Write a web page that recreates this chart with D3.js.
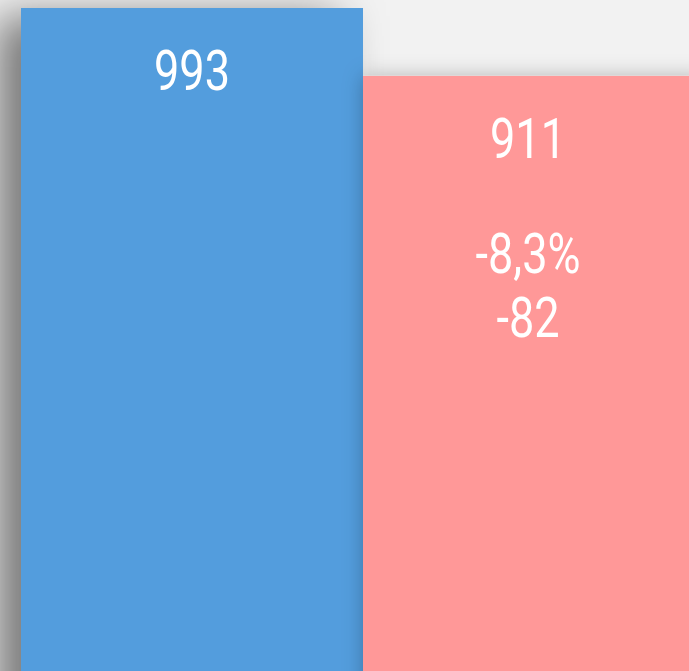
<!DOCTYPE html>
<html>
<head>
<meta charset="utf-8">
<script src="https://cdn.jsdelivr.net/npm/d3@7"></script>
<style>
  html, body { margin: 0; padding: 0; background: #f2f2f2; overflow: hidden; }
  svg { display: block; }
</style>
</head>
<body>
<div id="chart"></div>
<script>
// ---- data ----
const categories = ["A", "B"];
const values = [993, 911];
const colors = ["#529ddd", "#ff9898"];
const changePct = [null, "-8,3%"];
const changeAbs = [null, "-82"];

const W = 689, H = 671;
const svg = d3.select("#chart").append("svg").attr("width", W).attr("height", H);

const defs = svg.append("defs");
const shadowSpecs = [
  { id: "sh0", dx: -25, dy: 8, sd: 22, op: 0.5 },
  { id: "sh1", dx: 0, dy: 0, sd: 10, op: 0.26 }
];
shadowSpecs.forEach(s => {
  defs.append("filter").attr("id", s.id)
    .attr("filterUnits", "userSpaceOnUse")
    .attr("x", -200).attr("y", -200).attr("width", 1300).attr("height", 1300)
    .append("feDropShadow").attr("dx", s.dx).attr("dy", s.dy).attr("stdDeviation", s.sd)
    .attr("flood-color", "#000").attr("flood-opacity", s.op);
});

svg.append("rect").attr("width", W).attr("height", H).attr("fill", "#f2f2f2");

const x = d3.scaleBand().domain(categories).range([21, 705]).padding(0);
const y = d3.scaleLinear().domain([0, 993]).range([831, 8]);

const g = svg.append("g");
categories.forEach((c, i) => {
  g.append("rect")
    .attr("x", x(c)).attr("y", y(values[i]))
    .attr("width", x.bandwidth()).attr("height", y(0) - y(values[i]))
    .attr("fill", colors[i]).attr("filter", `url(#sh${i})`);
});

function label(cx, by, txt) {
  svg.append("g").attr("transform", `translate(${cx},${by}) scale(0.82,1)`)
    .append("text").attr("text-anchor", "middle")
    .attr("font-family", "Roboto, sans-serif").attr("font-size", 55)
    .attr("fill", "#fff").text(txt);
}

categories.forEach((c, i) => {
  const left = Math.max(0, x(c)), right = Math.min(W + 4, x(c) + x.bandwidth());
  const cx = (left + right) / 2;
  const top = y(values[i]);
  label(cx, top + 82, d3.format("d")(values[i]));
  if (changePct[i]) {
    label(cx, top + 197, changePct[i]);
    label(cx, top + 261, changeAbs[i]);
  }
});
</script>
</body>
</html>
